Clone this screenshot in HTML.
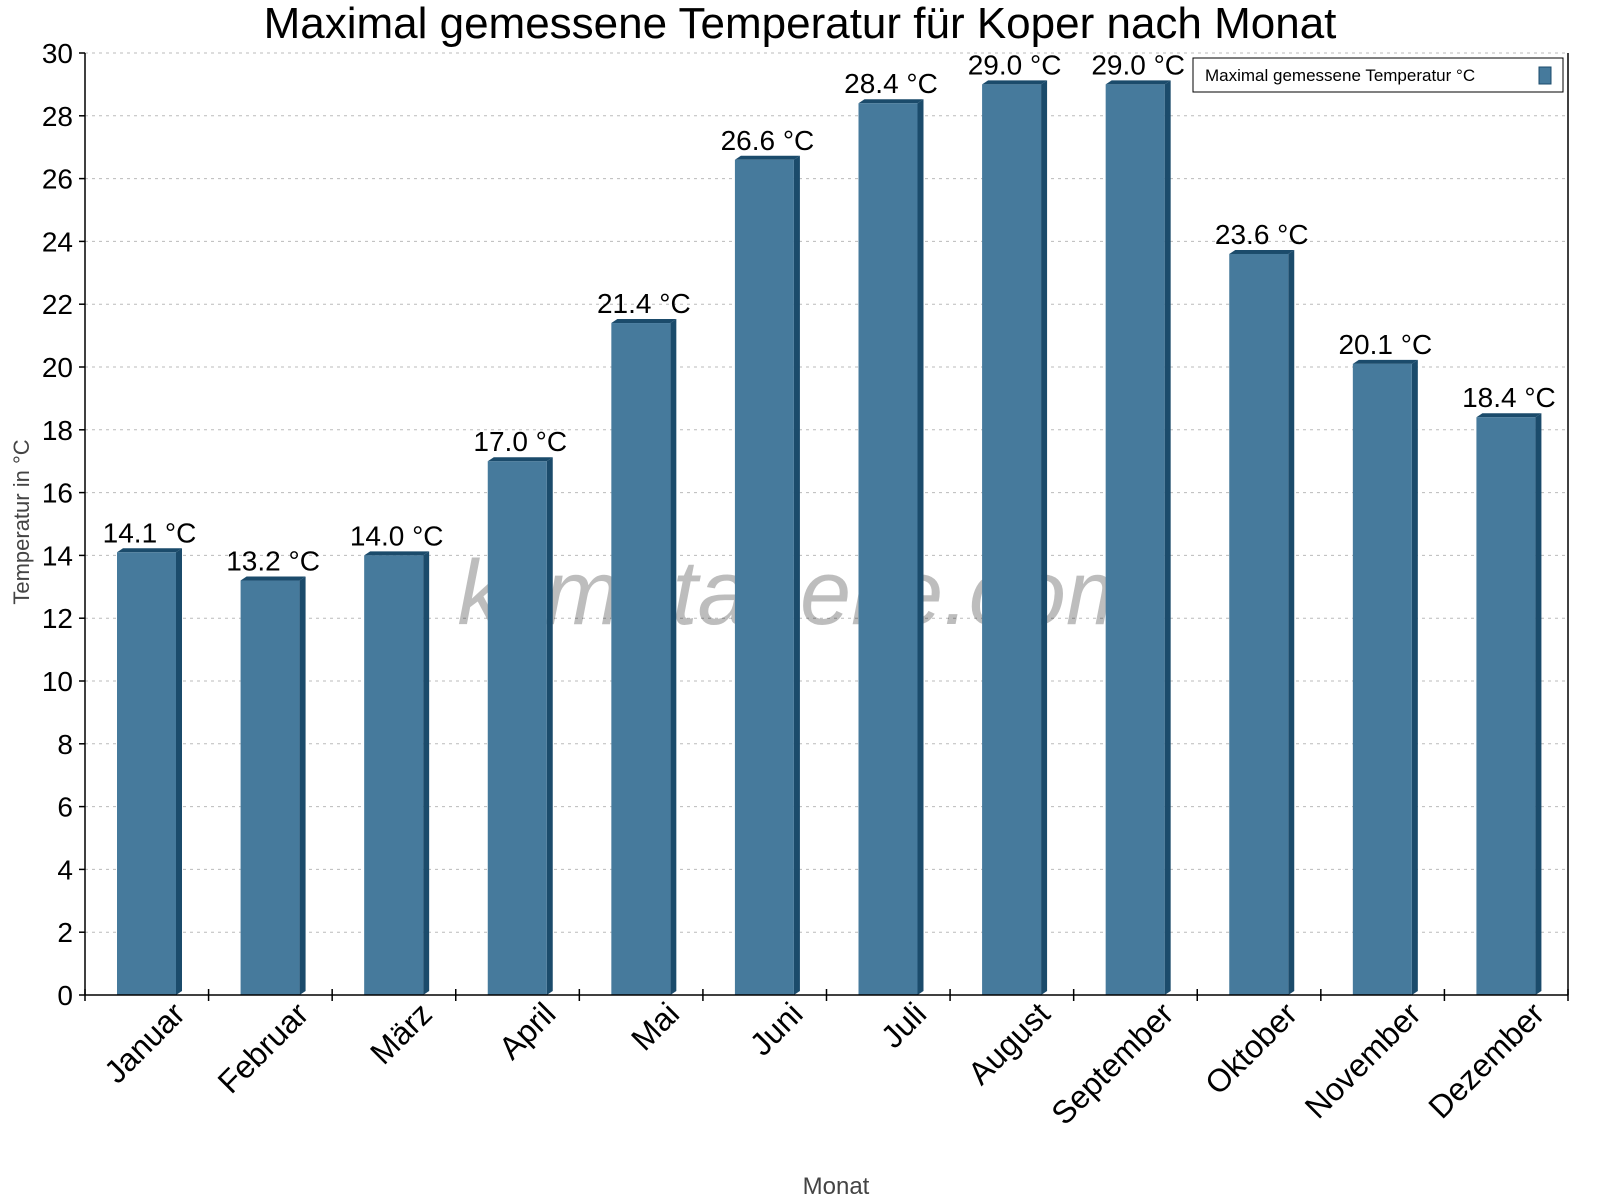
<!DOCTYPE html>
<html><head><meta charset="utf-8"><style>
html,body{margin:0;padding:0;background:#fff;}
svg{display:block;font-family:"Liberation Sans",sans-serif;}
</style></head><body>
<svg id="chart" width="1600" height="1200" viewBox="0 0 1600 1200">
<text x="800" y="38" font-size="44" text-anchor="middle" fill="#000">Maximal gemessene Temperatur für Koper nach Monat</text>
<g id="grid"></g>
<text x="800" y="624" font-size="92" font-style="italic" text-anchor="middle" fill="#000" fill-opacity="0.26">klimatabelle.com</text>
<g id="bars"></g>
<g id="axes"></g>
<text transform="translate(29,522) rotate(-90)" font-size="22" text-anchor="middle" fill="#444">Temperatur in °C</text>
<text x="836" y="1194" font-size="24" text-anchor="middle" fill="#444">Monat</text>
<g>
<rect x="1193" y="58" width="370" height="34" fill="#fff" stroke="#000" stroke-width="1"/>
<text x="1205" y="81" font-size="17" fill="#000">Maximal gemessene Temperatur °C</text>
<rect x="1539" y="67" width="12" height="17" fill="#467a9c" stroke="#1b4b6b" stroke-width="1"/>
</g>
</svg>
<script>
const categories = ["Januar","Februar","März","April","Mai","Juni","Juli","August","September","Oktober","November","Dezember"];
const values = [14.1,13.2,14.0,17.0,21.4,26.6,28.4,29.0,29.0,23.6,20.1,18.4];
const yTicks = [0,2,4,6,8,10,12,14,16,18,20,22,24,26,28,30];
const NS="http://www.w3.org/2000/svg";
const X0=85,X1=1568,Y0=995,YT=53,YMAX=30;
const bw=(X1-X0)/categories.length;
function y(v){return Y0-(v/YMAX)*(Y0-YT);}
function xc(i){return X0+bw*(i+0.5);}
function mk(t,a,p){const e=document.createElementNS(NS,t);for(const k in a)e.setAttribute(k,a[k]);p.appendChild(e);return e;}
const grid=document.getElementById('grid'),bars=document.getElementById('bars'),axes=document.getElementById('axes');
yTicks.forEach(t=>{
  const yy=y(t);
  if(t>0){const g=mk('line',{x1:X0,x2:X1,y1:yy,y2:yy,stroke:'#bbb','stroke-dasharray':'3,4','stroke-width':1},grid);
  
  }
  const tk=mk('line',{x1:X0-6,x2:X0,y1:yy,y2:yy,stroke:'#000','stroke-width':1.5},axes);
  
  
  const lb=mk('text',{x:X0-12,y:yy+10,'font-size':28,'text-anchor':'end',fill:'#000'},axes);
  lb.textContent=t;
  
  
});
const d=6;
values.forEach((v,i)=>{
  const l=X0+bw*i+32,w=59,top=y(v);
  const g=mk('g',{},bars);
  
  
  mk('polygon',{points:`${l+w},${top} ${l+w+d},${top-4} ${l+w+d},${Y0-4} ${l+w},${Y0}`,fill:'#1b4b6b'},g);
  mk('polygon',{points:`${l},${top} ${l+d},${top-4} ${l+w+d},${top-4} ${l+w},${top}`,fill:'#1b4b6b'},g);
  mk('rect',{x:l,y:top,width:w,height:Y0-top,fill:'#467a9c'},g);
  const vl=mk('text',{x:l+w/2+3,y:top-10,'font-size':28,'text-anchor':'middle',fill:'#000'},bars);
  vl.textContent=v.toFixed(1)+' °C';
  
  
  const cx=xc(i);
  const xl=mk('text',{transform:`translate(${cx+40},${1016}) rotate(-45)`,'font-size':32,'text-anchor':'end',fill:'#000'},axes);
  xl.textContent=categories[i];
  
  
});
for(let i=0;i<=categories.length;i++){
  const xx=X0+bw*i;
  const t=mk('line',{x1:xx,x2:xx,y1:Y0-6,y2:Y0+6,stroke:'#000','stroke-width':1.5},axes);
  
  
}
const ax=mk('line',{x1:X0,x2:X0,y1:YT,y2:Y0,stroke:'#000','stroke-width':1.5},axes);


const ax2=mk('line',{x1:X0,x2:X1,y1:Y0,y2:Y0,stroke:'#000','stroke-width':1.5},axes);


const ax3=mk('line',{x1:X1,x2:X1,y1:YT,y2:Y0,stroke:'#000','stroke-width':1.5},axes);


</script>
</body></html>
